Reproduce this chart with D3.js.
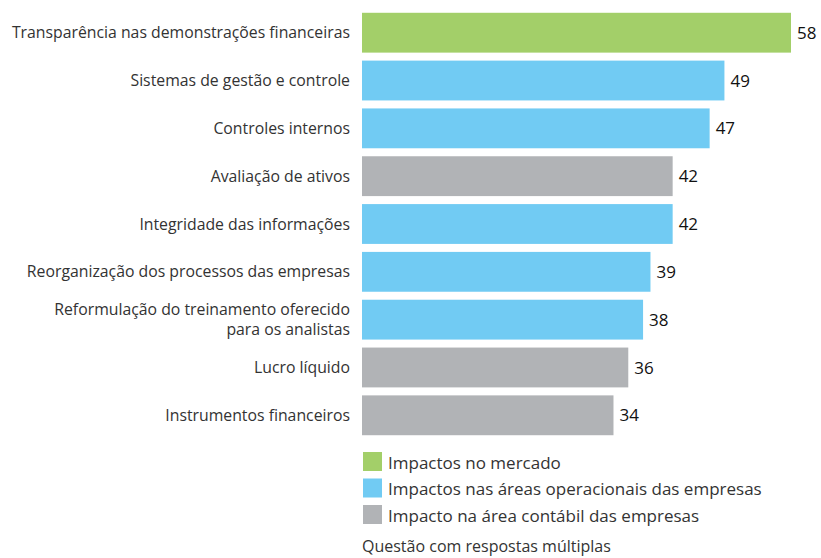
<!DOCTYPE html>
<html>
<head>
<meta charset="utf-8">
<script src="https://cdn.jsdelivr.net/npm/d3@7"></script>
<style>
  body { margin: 0; background: #fff; }
  text { font-family: "Open Sans", sans-serif; }
</style>
</head>
<body>
<div id="chart"></div>
<script>
// chart data
var categories = [
  'Transparência nas demonstrações financeiras',
  'Sistemas de gestão e controle',
  'Controles internos',
  'Avaliação de ativos',
  'Integridade das informações',
  'Reorganização dos processos das empresas',
  'Reformulação do treinamento oferecido\npara os analistas',
  'Lucro líquido',
  'Instrumentos financeiros'
];
var values = [58, 49, 47, 42, 42, 39, 38, 36, 34];
var groups = [0, 1, 1, 2, 1, 1, 1, 2, 2];
var legendLabels = [
  'Impactos no mercado',
  'Impactos nas áreas operacionais das empresas',
  'Impacto na área contábil das empresas'
];
var colors = ['#a3cf69', '#71cbf3', '#b1b3b6'];

var width = 821, height = 558;

var svg = d3.select('#chart')
  .append('svg')
  .attr('width', width)
  .attr('height', height);

var x = d3.scaleLinear()
  .domain([0, 58])
  .range([362, 791]);

var y = d3.scaleBand()
  .domain(d3.range(categories.length))
  .range([8, 440])
  .paddingInner(0.167)
  .paddingOuter(0.1);

var rows = svg.selectAll('g.row')
  .data(values)
  .enter()
  .append('g')
  .attr('class', 'row');

rows.append('rect')
  .attr('x', x(0))
  .attr('y', function(d, i) { return y(i); })
  .attr('width', function(d) { return x(d) - x(0); })
  .attr('height', y.bandwidth())
  .style('fill', function(d, i) { return colors[groups[i]]; });

rows.append('text')
  .attr('x', function(d) { return x(d) + 6; })
  .attr('y', function(d, i) { return y(i) + y.bandwidth() / 2; })
  .attr('dy', '0.36em')
  .style('font-size', '17px')
  .style('fill', '#111')
  .text(function(d) { return d; });

// category labels, right aligned, may wrap
rows.each(function(d, i) {
  var lines = categories[i].split('\n');
  var cy = y(i) + y.bandwidth() / 2;
  var t = d3.select(this).append('text')
    .attr('x', 350)
    .attr('text-anchor', 'end')
    .style('font-size', '15.8px')
    .style('fill', '#333');
  lines.forEach(function(line, k) {
    t.append('tspan')
      .attr('x', 350)
      .attr('y', cy + (k - (lines.length - 1) / 2) * 20)
      .attr('dy', '0.35em')
      .text(line);
  });
});

// legend
var legend = svg.selectAll('g.legend')
  .data(legendLabels)
  .enter()
  .append('g')
  .attr('class', 'legend')
  .attr('transform', function(d, i) { return 'translate(363,' + (452 + i * 26.5) + ')'; });

legend.append('rect')
  .attr('width', 19)
  .attr('height', 19)
  .style('fill', function(d, i) { return colors[i]; });

legend.append('text')
  .attr('x', 25)
  .attr('y', 11)
  .attr('dy', '0.35em')
  .style('font-size', '17px')
  .style('fill', '#333')
  .text(function(d) { return d; });

svg.append('text')
  .attr('x', 362)
  .attr('y', 552)
  .style('font-size', '16px')
  .style('fill', '#333')
  .text('Questão com respostas múltiplas');
</script>
</body>
</html>
